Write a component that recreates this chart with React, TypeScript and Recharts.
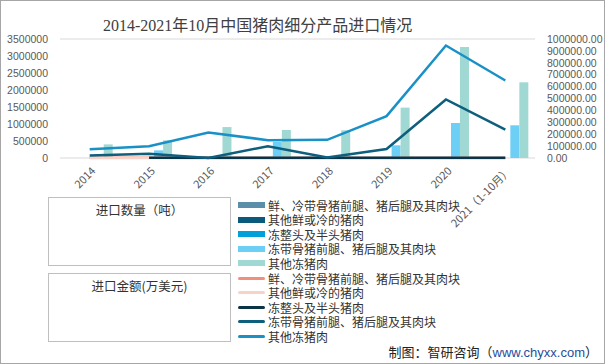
import React from 'react';
import { ComposedChart, Bar, Line, XAxis, YAxis, CartesianGrid } from 'recharts';

const categories = ['2014', '2015', '2016', '2017', '2018', '2019', '2020', '2021（1-10月）'];

// 进口数量（吨）
const qtyFreshBone = [0, 0, 0, 0, 0, 0, 0, 0];
const qtyFreshOther = [0, 0, 0, 0, 0, 0, 0, 0];
const qtyFrozenWhole = [0, 0, 0, 0, 0, 0, 0, 0];
const qtyFrozenBone = [0, 225000, 0, 470000, 0, 373000, 1030000, 962000];
const qtyFrozenOther = [400000, 520000, 910000, 825000, 815000, 1482000, 3265000, 2226000];

// 进口金额（万美元）
const valFreshBone = [1500, 1200, 800, 600, 500, 500, 500, 400];
const valFreshOther = [1000, 900, 600, 500, 400, 400, 400, 300];
const valFrozenWhole = [null, 1500, 1500, 1500, 1500, 1500, 1500, 1500];
const valFrozenBone = [20000, 35000, 1000, 99000, 4000, 75000, 492000, 238000];
const valFrozenOther = [73000, 99000, 214000, 150000, 153000, 352000, 945000, 651000];

const leftTicks = [0, 500000, 1000000, 1500000, 2000000, 2500000, 3000000, 3500000];
const rightTicks = [0, 100000, 200000, 300000, 400000, 500000, 600000, 700000, 800000, 900000, 1000000];

const title = '2014-2021年10月中国猪肉细分产品进口情况';
const qtyLabel = '进口数量（吨）';
const valLabel = '进口金额(万美元)';
const seriesNames = [
  '鲜、冷带骨猪前腿、猪后腿及其肉块',
  '其他鲜或冷的猪肉',
  '冻整头及半头猪肉',
  '冻带骨猪前腿、猪后腿及其肉块',
  '其他冻猪肉',
];

const data = categories.map((c, i) => ({
  name: c,
  q0: qtyFreshBone[i],
  q1: qtyFreshOther[i],
  q2: qtyFrozenWhole[i],
  q3: qtyFrozenBone[i],
  q4: qtyFrozenOther[i],
  v0: valFreshBone[i],
  v1: valFreshOther[i],
  v2: valFrozenWhole[i],
  v3: valFrozenBone[i],
  v4: valFrozenOther[i],
}));

const barColors = ['#5B8EA8', '#0B5A7B', '#00A0DA', '#6DCFF6', '#A0D8D4'];
const lineColors = ['#F0907A', '#F8D2C8', '#0A3447', '#0E5E7E', '#1A91C6'];

const cjk = '"Noto Sans CJK SC", "Liberation Sans", sans-serif';
const axisFont = '"Liberation Sans", "Noto Sans CJK SC", sans-serif';

const XTick = (props: any) => {
  const { x, y, payload } = props;
  return (
    <g transform={`translate(${x + 4},${y + 9})`}>
      <text
        textAnchor="end"
        transform="rotate(-45)"
        fontSize={11}
        fill="#595959"
        fontFamily={cjk}
        dy="0.35em"
      >
        {payload.value}
      </text>
    </g>
  );
};

export default function App() {
  const rowH = 14.6;
  const legendTop = 198;
  const labelStyle: React.CSSProperties = {
    display: 'block',
    height: 13,
    overflow: 'visible',
    fontFamily: cjk,
    fontSize: 12,
    color: '#333',
    lineHeight: '13px',
  };
  return (
    <div style={{ position: 'absolute', left: 0, top: 0, width: 605, height: 364, background: '#fff', overflow: 'hidden' }}>
      <div
        style={{
          position: 'absolute',
          left: 103,
          top: 15,
          fontSize: 16,
          lineHeight: '22px',
          whiteSpace: 'nowrap',
          color: '#404040',
          fontFamily: '"Liberation Serif", "Noto Sans CJK SC", serif',
        }}
      >
        {title}
      </div>
      <div style={{ position: 'absolute', left: 0, top: 0 }}>
        <ComposedChart
          width={605}
          height={364}
          data={data}
          margin={{ top: 39, right: 0, bottom: 0, left: 0 }}
          barCategoryGap="13%"
          barGap={0}
        >
          <CartesianGrid vertical={false} stroke="#d9d9d9" strokeWidth={1} />
          <XAxis
            dataKey="name"
            height={206}
            tickLine={false}
            tickSize={0}
            tickMargin={2}
            axisLine={false}
            tick={<XTick />}
            interval={0}
          />
          <YAxis
            yAxisId="left"
            width={60}
            domain={[0, 3500000]}
            ticks={leftTicks}
            axisLine={false}
            tickLine={false}
            tickSize={6}
            tickMargin={6}
            tick={{ fontSize: 10.5, fill: '#595959', fontFamily: axisFont }}
            interval={0}
          />
          <YAxis
            yAxisId="right"
            orientation="right"
            width={70}
            domain={[0, 1000000]}
            ticks={rightTicks}
            axisLine={false}
            tickLine={false}
            tickSize={6}
            tickMargin={6}
            tick={{ fontSize: 10.5, fill: '#595959', fontFamily: axisFont }}
            tickFormatter={(v: number) => v.toFixed(2)}
            interval={0}
          />
          {['q0', 'q1', 'q2', 'q3', 'q4'].map((k, i) => (
            <Bar key={k} yAxisId="left" dataKey={k} name={seriesNames[i]} fill={barColors[i]} isAnimationActive={false} />
          ))}
          {['v0', 'v1', 'v2', 'v3', 'v4'].map((k, i) => (
            <Line
              key={k}
              yAxisId="right"
              dataKey={k}
              name={seriesNames[i]}
              type="linear"
              stroke={lineColors[i]}
              strokeWidth={2.5}
              dot={false}
              activeDot={false}
              isAnimationActive={false}
            />
          ))}
        </ComposedChart>
      </div>

      {/* legend table */}
      <div style={{ position: 'absolute', left: 48, top: 197, width: 183, height: 69, border: '1px solid #bfbfbf', boxSizing: 'border-box', fontFamily: cjk, fontSize: 12.5, color: '#333', textAlign: 'center', paddingTop: 4, lineHeight: '16px' }}>
        {qtyLabel}
      </div>
      <div style={{ position: 'absolute', left: 48, top: 273, width: 183, height: 69, border: '1px solid #bfbfbf', boxSizing: 'border-box', fontFamily: cjk, fontSize: 12.5, color: '#333', textAlign: 'center', paddingTop: 4, lineHeight: '16px' }}>
        {valLabel}
      </div>
      {seriesNames.map((n, i) => (
        <div key={'b' + i} style={{ position: 'absolute', left: 238, top: legendTop + i * rowH, height: 14, display: 'flex', alignItems: 'center', whiteSpace: 'nowrap' }}>
          <div style={{ width: 27, height: 6, background: barColors[i], marginRight: 3 }} />
          <span style={labelStyle}>{n}</span>
        </div>
      ))}
      {seriesNames.map((n, i) => (
        <div key={'l' + i} style={{ position: 'absolute', left: 238, top: legendTop + (i + 5) * rowH, height: 14, display: 'flex', alignItems: 'center', whiteSpace: 'nowrap' }}>
          <div style={{ width: 27, height: 3, borderRadius: 2, background: lineColors[i], marginRight: 3 }} />
          <span style={labelStyle}>{n}</span>
        </div>
      ))}

      <div style={{ position: 'absolute', right: 7, top: 343, fontFamily: cjk, fontSize: 13, color: '#222', whiteSpace: 'nowrap', lineHeight: '18px' }}>
        制图：智研咨询（<span style={{ color: '#1F4E9C', fontFamily: axisFont }}>www.chyxx.com</span>）
      </div>
      <div style={{ position: 'absolute', left: 0, top: 0, width: 605, height: 364, border: '1px solid #a6a6a6', boxSizing: 'border-box', pointerEvents: 'none' }} />
    </div>
  );
}
